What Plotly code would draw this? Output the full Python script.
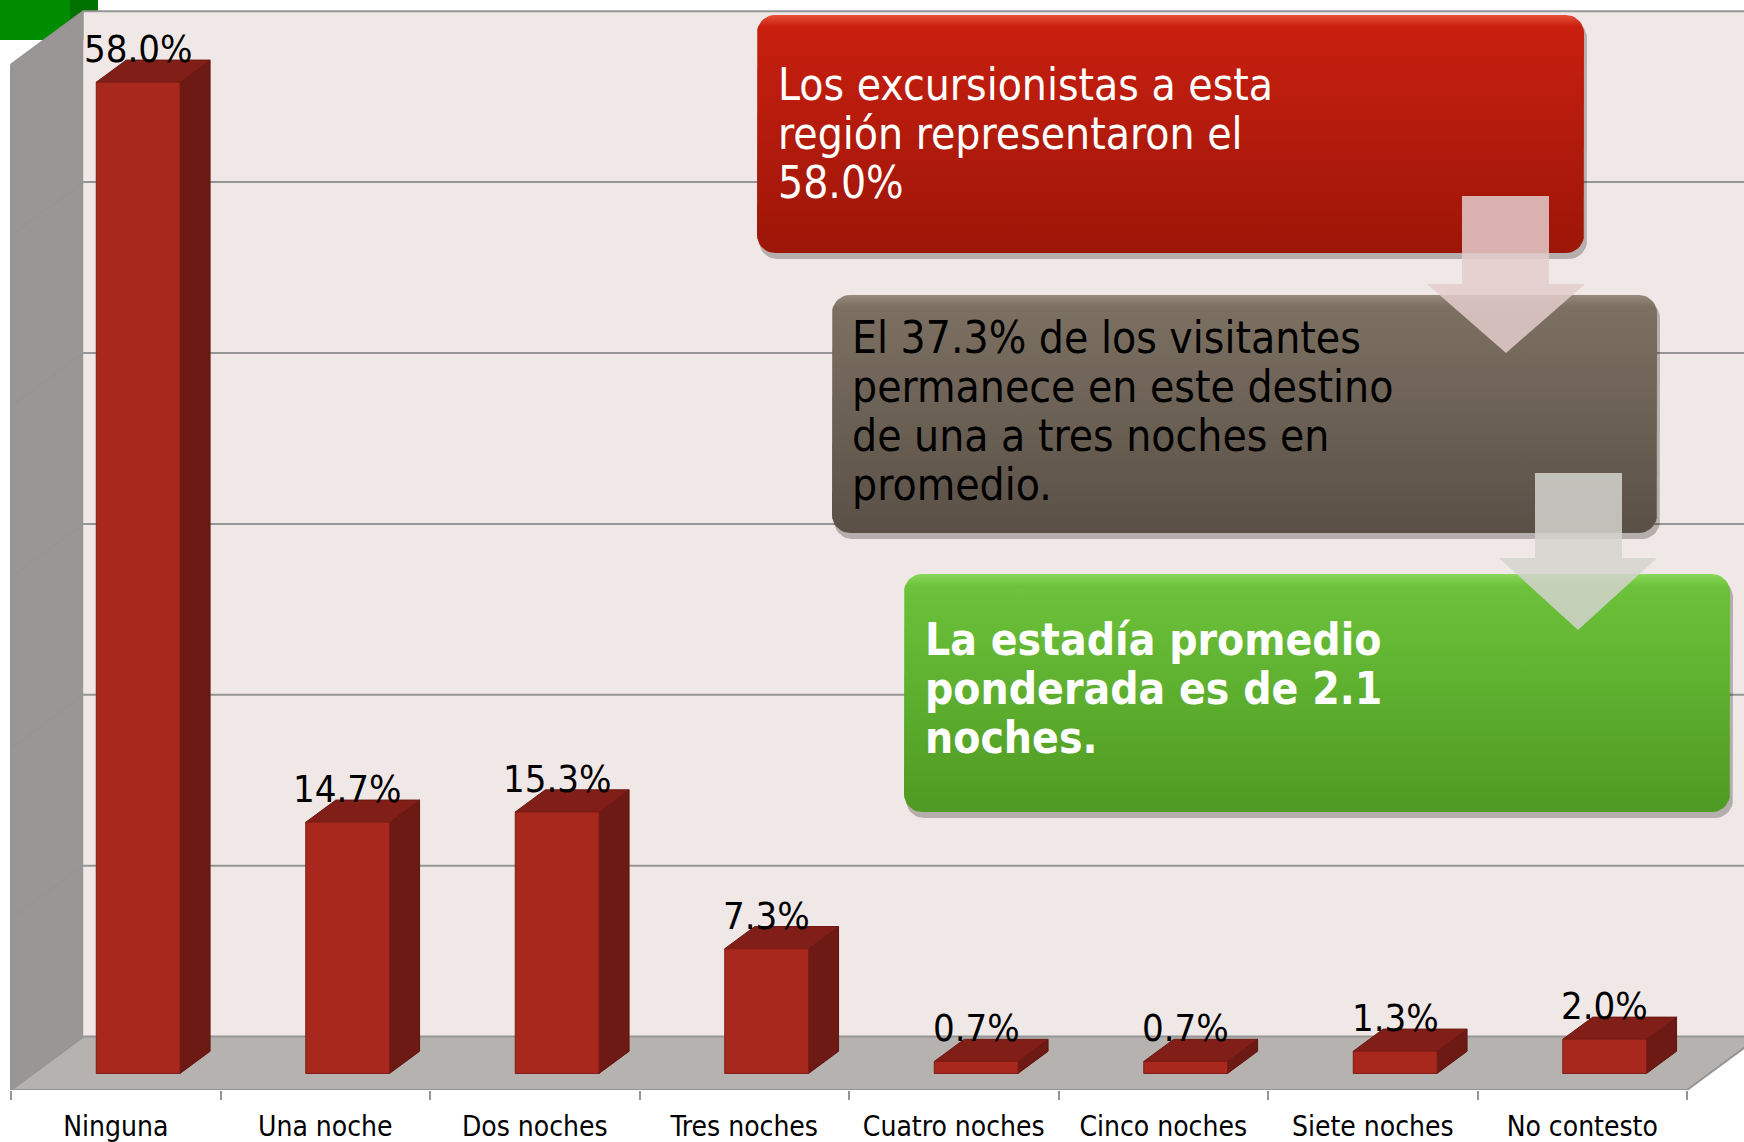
import plotly.graph_objects as go
import numpy as np

# ---------------- data ----------------
categories = ["Ninguna", "Una noche", "Dos noches", "Tres noches",
              "Cuatro noches", "Cinco noches", "Siete noches", "No contesto"]
values = [58.0, 14.7, 15.3, 7.3, 0.7, 0.7, 1.3, 2.0]
grid_values = [0, 10, 20, 30, 40, 50, 60]
callout_red = ["Los excursionistas a esta", "región representaron el", "58.0%"]
callout_brown = ["El 37.3% de los visitantes", "permanece en este destino",
                 "de una a tres noches en", "promedio."]
callout_green = ["La estadía promedio", "ponderada es de 2.1", "noches."]

# ---------------- geometry / style ----------------
W, H = 1744, 1142
FLOOR_PX = 1090          # pixel row of the front floor edge
X0_PX = 11               # pixel column of the front-left corner
CAT_PX = 209.5           # pixels per category
PCT_PX = 17.09           # pixels per percent
DX = 72.3 / CAT_PX       # depth offset in category units
DY = 53.4 / PCT_PX       # depth offset in percent units
BAR_W = 0.4
D0, D1 = 0.31, 0.725
N = len(categories)
VMAX = grid_values[-1]

FONT = "DejaVu Sans Condensed, DejaVu Sans, sans-serif"
C_FRONT, C_TOP, C_SIDE = "#A8281E", "#821E18", "#6E1A14"
C_BACK, C_LEFT, C_FLOOR = "#F0E8E6", "#9A9696", "#B6B2AF"
C_GRID = "#959595"


def proj(c, v, d):
    return c + d * DX, v + d * DY


def polys_xy(polys):
    xs, ys = [], []
    for p in polys:
        for (x, y) in p + [p[0]]:
            xs.append(x)
            ys.append(y)
        xs.append(None)
        ys.append(None)
    return xs, ys


fig = go.Figure()


def add_fill(polys, color, line_color=None, line_width=0, xa="x", ya="y", gradient=None):
    xs, ys = polys_xy(polys)
    kw = {}
    if gradient is not None:
        kw["fillgradient"] = gradient
    fig.add_trace(go.Scatter(
        x=xs, y=ys, mode="lines", fill="toself", fillcolor=color,
        line=dict(color=line_color or color, width=line_width),
        hoverinfo="skip", showlegend=False, xaxis=xa, yaxis=ya, **kw))


def add_lines(segs, color, width, xa="x", ya="y"):
    xs, ys = [], []
    for s in segs:
        for (x, y) in s:
            xs.append(x)
            ys.append(y)
        xs.append(None)
        ys.append(None)
    fig.add_trace(go.Scatter(x=xs, y=ys, mode="lines",
                             line=dict(color=color, width=width),
                             hoverinfo="skip", showlegend=False, xaxis=xa, yaxis=ya))


# walls and floor
back = [proj(0, 0, 1), proj(N, 0, 1), proj(N, VMAX, 1), proj(0, VMAX, 1)]
left = [proj(0, 0, 0), proj(0, VMAX, 0), proj(0, VMAX, 1), proj(0, 0, 1)]
floor = [proj(0, 0, 0), proj(N, 0, 0), proj(N, 0, 1), proj(0, 0, 1)]
add_fill([back], C_BACK)
add_fill([left], C_LEFT)
add_fill([floor], C_FLOOR)

# gridlines (left wall + back wall)
grid_segs = [[proj(0, g, 0), proj(0, g, 1), proj(N, g, 1)] for g in grid_values]
add_lines(grid_segs, C_GRID, 2)
edge_segs = [[proj(0, VMAX, 0), proj(0, 0, 0), proj(N, 0, 0), proj(N, 0, 1)]]
add_lines(edge_segs, C_GRID, 2)

# bars
sides, tops, fronts = [], [], []
for i, v in enumerate(values):
    xl = i + 0.5 - BAR_W / 2
    xr = i + 0.5 + BAR_W / 2
    fronts.append([proj(xl, 0, D0), proj(xr, 0, D0), proj(xr, v, D0), proj(xl, v, D0)])
    sides.append([proj(xr, 0, D0), proj(xr, 0, D1), proj(xr, v, D1), proj(xr, v, D0)])
    tops.append([proj(xl, v, D0), proj(xr, v, D0), proj(xr, v, D1), proj(xl, v, D1)])
add_fill(sides, C_SIDE, "#5E1510", 1)
add_fill(tops, C_TOP, "#6E1A14", 1)
add_fill(fronts, C_FRONT, "#7E1D16", 1)

annotations = []
for i, v in enumerate(values):
    x, _ = proj(i + 0.5, v, D0)
    _, y = proj(i + 0.5, v, D1)
    annotations.append(dict(x=x, y=y, xref="x", yref="y", text=f"{v:.1f}%",
                            showarrow=False, xanchor="center", yanchor="middle",
                            yshift=11, font=dict(family=FONT, size=38, color="black")))


# ---------------- callouts (pixel coordinates on overlay axes) ----------------
def py(y):
    return FLOOR_PX - y


def rrect(x0, y0, x1, y1, r, n=10):
    pts = []
    corners = [(x1 - r, y0 + r, -90, 0), (x1 - r, y1 - r, 0, 90),
               (x0 + r, y1 - r, 90, 180), (x0 + r, y0 + r, 180, 270)]
    for cx, cy, a0, a1 in corners:
        for a in np.linspace(np.radians(a0), np.radians(a1), n):
            pts.append((cx + r * np.cos(a), py(cy + r * np.sin(a))))
    return pts


def arrow(sx0, sx1, sy0, hx0, hx1, hy0, ty):
    tx = (hx0 + hx1) / 2
    return [(sx0, py(sy0)), (sx1, py(sy0)), (sx1, py(hy0)), (hx1, py(hy0)),
            (tx, py(ty)), (hx0, py(hy0)), (sx0, py(hy0))]


boxes = [
    ((757, 15, 1584, 253), "#9C1608", "#C81F0F", "#E8503A"),
    ((832, 295, 1657, 533), "#5A5046", "#7C7062", "#968A7C"),
    ((904, 574, 1730, 812), "#4E9A22", "#6CC23A", "#8AD85A"),
]
for (x0, y0, x1, y1), cb, ct, ch in boxes:
    shadow = rrect(x0 + 2, y0 + 5, x1 + 3, y1 + 6, 18)
    add_fill([shadow], "rgba(0,0,0,0.25)", xa="x2", ya="y2")
    add_fill([rrect(x0, y0, x1, y1, 18)], ct, xa="x2", ya="y2",
             gradient=dict(type="vertical",
                           colorscale=[[0, cb], [0.95, ct], [1, ch]]))

add_fill([arrow(1462, 1549, 196, 1427, 1585, 284, 353)],
         "rgba(228,204,204,0.85)", xa="x2", ya="y2")
add_fill([arrow(1535, 1622, 473, 1499, 1657, 558, 630)],
         "rgba(212,212,206,0.85)", xa="x2", ya="y2")


def add_lines_text(lines, x0, baselines, color, size, bold=False):
    for t, b in zip(lines, baselines):
        txt = f"<b>{t}</b>" if bold else t
        annotations.append(dict(x=x0, y=py(b - 0.345 * size), xref="x2", yref="y2",
                                text=txt, showarrow=False, xanchor="left",
                                yanchor="middle", align="left",
                                font=dict(family=FONT, size=size, color=color)))


add_lines_text(callout_red, 776, [100, 149, 198], "white", 44)
add_lines_text(callout_brown, 850, [353, 402, 451, 500], "black", 44)
add_lines_text(callout_green, 923, [655, 704, 753], "white", 44, bold=True)

# decorative green corner
shapes = [
    dict(type="rect", xref="paper", yref="paper", x0=0, x1=70 / W,
         y0=1 - 40 / FLOOR_PX, y1=1, fillcolor="#008C00", line_width=0, layer="below"),
    dict(type="rect", xref="paper", yref="paper", x0=70 / W, x1=98 / W,
         y0=1 - 40 / FLOOR_PX, y1=1, fillcolor="#007200", line_width=0, layer="below"),
]

fig.update_layout(
    width=W, height=H,
    margin=dict(l=0, r=0, t=0, b=H - FLOOR_PX, pad=0),
    paper_bgcolor="white", plot_bgcolor="white",
    showlegend=False,
    annotations=annotations,
    shapes=shapes,
    xaxis=dict(range=[-X0_PX / CAT_PX, (W - X0_PX) / CAT_PX],
               tickmode="array", tickvals=[i + 0.5 for i in range(N)],
               ticktext=categories, ticks="", showgrid=False, zeroline=False,
               showline=False, fixedrange=True, ticklabelstandoff=17,
               tickfont=dict(family=FONT, size=28, color="black"),
               minor=dict(tickmode="array", tickvals=list(range(N + 1)),
                          ticks="outside", ticklen=9, tickwidth=2,
                          tickcolor=C_GRID, showgrid=False)),
    yaxis=dict(range=[0, FLOOR_PX / PCT_PX], visible=False, fixedrange=True),
    xaxis2=dict(range=[0, W], overlaying="x", anchor="y2", visible=False, fixedrange=True),
    yaxis2=dict(range=[0, FLOOR_PX], overlaying="y", anchor="x2", visible=False, fixedrange=True),
)

fig.write_html("out.html", config={"displayModeBar": False},
               post_script="document.body.style.margin='0px';document.body.style.overflow='hidden';")
